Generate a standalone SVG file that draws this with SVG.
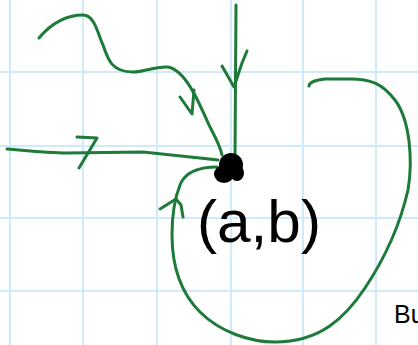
<svg xmlns="http://www.w3.org/2000/svg" width="418" height="345" viewBox="0 0 418 345">
<style>
.grid line{stroke:#cfeafa;stroke-width:2}
.c{fill:none;stroke:#1d7a38;stroke-width:3;stroke-linecap:round;stroke-linejoin:round}
.lbl{font-family:"Liberation Sans",Arial,sans-serif;fill:#000}
</style>
<rect width="418" height="345" fill="#fff"/>
<g class="grid">
<line x1="10" y1="0" x2="10" y2="345"/>
<line x1="83" y1="0" x2="83" y2="345"/>
<line x1="157" y1="0" x2="157" y2="345"/>
<line x1="231" y1="0" x2="231" y2="345"/>
<line x1="303" y1="0" x2="303" y2="345"/>
<line x1="376" y1="0" x2="376" y2="345"/>
<line x1="0" y1="72" x2="418" y2="72"/>
<line x1="0" y1="146" x2="418" y2="146"/>
<line x1="0" y1="218" x2="418" y2="218"/>
<line x1="0" y1="291" x2="418" y2="291"/>
</g>
<g id="connectors">
<path class="c" d="M39,38 C50,25 65,15 83,15 C95,15 98,35 103,45 C108,60 112,72 133,72 C145,72 155,66 168,67 C185,70 198,100 209,125 C214,135 220,145 222,155"/>
<path class="c" d="M180,97 L192,114 L194,90"/>
<path class="c" d="M236,5 L235,157"/>
<path class="c" d="M222,66 L234,87 L242,63 L247,51"/>
<path class="c" d="M7,149 C30,151 50,153 67,153 L143,152 C160,154 190,157 218,160"/>
<path class="c" d="M77,137 L97,138 L79,168"/>
<path class="c" d="M217,167 C200,167 185,172 180,185 C174,200 172,215 172,235 C172,260 178,290 200,312 C220,332 250,342 275,342 C320,342 345,318 365,288 C385,258 400,225 408,190 C413,160 410,120 395,100 C382,83 370,79 350,79 L325,79 C315,80 309,83 309,86"/>
<path class="c" d="M160,209 L176,199 L181,205 L183,217"/>
</g>
<g id="node-ab">
<ellipse cx="231" cy="165" rx="12" ry="12" fill="#000"/>
<ellipse cx="224" cy="174" rx="10" ry="9" fill="#000"/>
<ellipse cx="237" cy="173" rx="7" ry="8" fill="#000"/>
<text class="lbl" x="197" y="242" font-size="60" textLength="124" lengthAdjust="spacingAndGlyphs">(a,b)</text>
</g>
<g id="label-bu">
<text class="lbl" x="394" y="323" font-size="25">Bu</text>
</g>
</svg>
